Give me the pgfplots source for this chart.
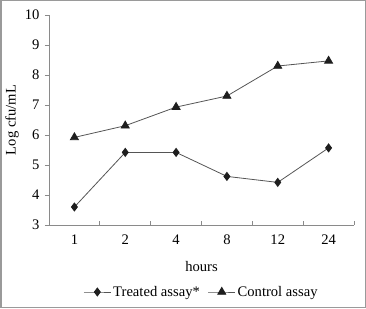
\documentclass[border=0pt]{standalone}
\usepackage{pgfplots}
\pgfplotsset{compat=1.18}
\usepackage{fontspec}
\setmainfont{Liberation Serif}
\definecolor{axisgray}{HTML}{8A8A8A}
\definecolor{linegray}{HTML}{555555}
\definecolor{markdark}{HTML}{1E1E1E}
\definecolor{framegray}{HTML}{9A9A9A}
\newcommand{\chartfont}{\fontsize{14.6}{17}\selectfont}
\begin{document}
\begin{tikzpicture}[x=1pt,y=1pt]
% outer frame
\draw[framegray, line width=1.5pt] (0.75,0.75) rectangle (365.25,307.25);
\begin{axis}[
  at={(49pt,83pt)}, anchor=south west,
  scale only axis, width=305pt, height=210pt,
  xmin=-0.5, xmax=5.5, ymin=3, ymax=10,
  axis x line*=bottom, axis y line*=left,
  axis line style={axisgray, line width=0.9pt},
  xtick={0,...,5},
  xticklabels={1,2,4,8,12,24},
  major x tick style={draw=none},
  minor xtick={0.5,1.5,...,5.5},
  minor x tick style={axisgray, line width=0.8pt},
  minor tick length=4pt,
  x tick label style={yshift=-6pt},
  ytick={3,4,...,10},
  y tick style={axisgray, line width=0.8pt},
  major tick length=4pt,
  ytick align=outside, xtick align=inside,
  y tick label style={xshift=-2pt},
  tick label style={font=\chartfont},
  /pgf/number format/assume math mode=true,
  xlabel={hours},
  xlabel style={at={(axis description cs:0.5,-0.2)}, anchor=center, font=\chartfont},
  ylabel={Log cfu/mL},
  ylabel style={at={(axis description cs:-0.121,0.5)}, anchor=center, font=\chartfont},
  legend style={at={(axis description cs:0.5,-0.319)}, anchor=center, draw=none,
    font=\chartfont, legend columns=2},
  legend image code/.code={%
    \draw[mark repeat=2, mark phase=2]
      plot coordinates {(0pt,0pt) (13.5pt,0pt) (27pt,0pt)};},
  clip=false,
]
\addplot[linegray, line width=0.8pt, mark=diamond*, mark size=4pt,
  mark options={fill=markdark, draw=markdark}]
  coordinates {(0,3.6) (1,5.42) (2,5.42) (3,4.62) (4,4.42) (5,5.57)};
\addlegendentry{Treated assay*\kern6pt}
\addplot[linegray, line width=0.8pt, mark=triangle*, mark size=4.6pt,
  mark options={fill=markdark, draw=markdark}]
  coordinates {(0,5.92) (1,6.31) (2,6.93) (3,7.3) (4,8.3) (5,8.47)};
\addlegendentry{Control assay}
\end{axis}
\end{tikzpicture}
\end{document}
